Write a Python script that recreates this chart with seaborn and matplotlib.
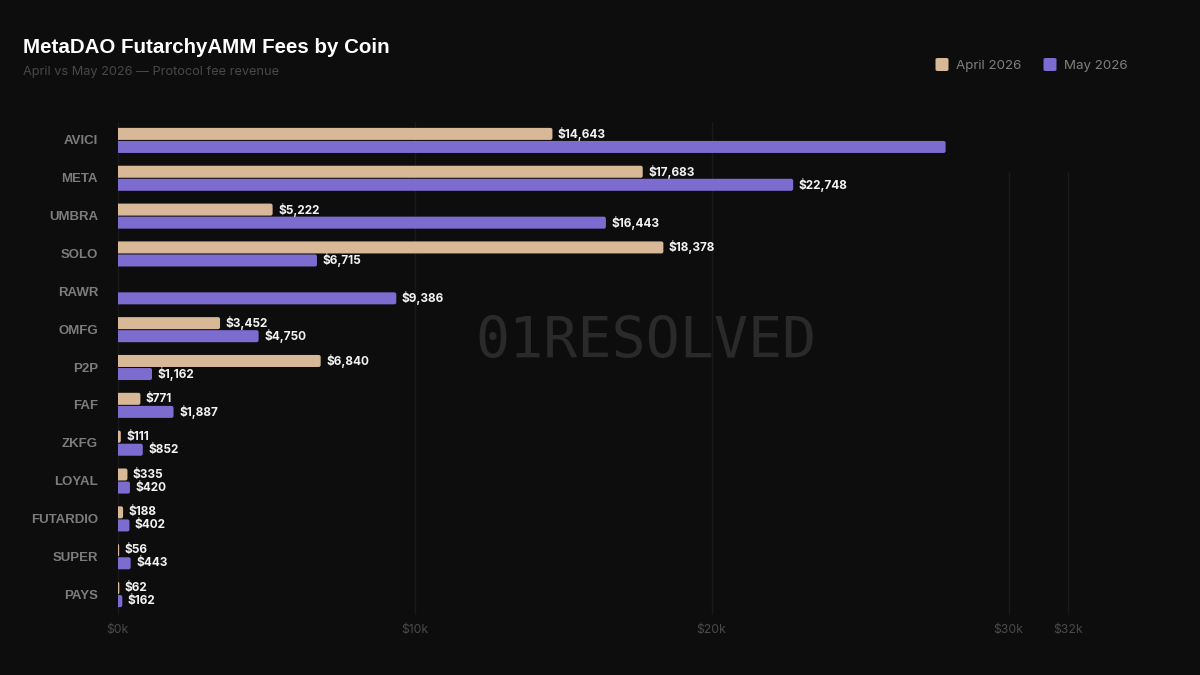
import numpy as np
import pandas as pd
import matplotlib.pyplot as plt
from matplotlib.path import Path
from matplotlib.patches import PathPatch, FancyBboxPatch
from matplotlib.transforms import ScaledTranslation
import seaborn as sns

coins = ['AVICI', 'META', 'UMBRA', 'SOLO', 'RAWR', 'OMFG', 'P2P', 'FAF', 'ZKFG',
         'LOYAL', 'FUTARDIO', 'SUPER', 'PAYS']
april = [14643, 17683, 5222, 18378, 0, 3452, 6840, 771, 111, 335, 188, 56, 62]
may = [27880, 22748, 16443, 6715, 9386, 4750, 1162, 1887, 852, 420, 402, 443, 162]
# the longest bar has no label in the picture
no_label = [('May 2026', 'AVICI')]
tick_values = [0, 10000, 20000, 30000, 32000]
tick_labels = ['$0k', '$10k', '$20k', '$30k', '$32k']
months = ['April 2026', 'May 2026']

BG = '#0d0d0d'
TAN = '#d9b897'
PURPLE = '#7d6cd0'
W, H = 1200, 675

sns.set_theme(style='dark')
plt.rcParams['font.family'] = ['Inter', 'DejaVu Sans']

df = pd.DataFrame({'coin': coins, 'April 2026': april, 'May 2026': may})
df = df.melt(id_vars='coin', var_name='month', value_name='fee')

fig = plt.figure(figsize=(12, 6.75), dpi=100, facecolor=BG)
# pixel box of the plot area
ax = fig.add_axes([117.5 / W, 1 - 613.5 / H, (1068 - 117.5) / W, (613.5 - 121.5) / H])
ax.set_facecolor(BG)

sns.barplot(data=df, y='coin', x='fee', hue='month', order=coins, hue_order=months,
            palette=[TAN, PURPLE], saturation=1, orient='h', width=0.69, gap=0.08,
            legend=False, ax=ax, zorder=3)

ax.set_xlim(0, 32000)
ax.set_ylim(12.5, -0.5)

# grid: the two last lines start lower in the reference
for v in tick_values:
    top = 1.0 if v <= 20000 else (613.5 - 172) / (613.5 - 121.5)
    ax.axvline(v, ymin=0, ymax=top, color='#1a1a1a', lw=1, zorder=1, clip_on=False)

# bars with rounded right end and their labels
px = (1068 - 117.5) / 32000
py = (613.5 - 121.5) / 13
radius = 2.0
bars = [b for b in ax.patches]
n = len(coins)
for i, b in enumerate(bars[:2 * n]):
    month = months[i // n]
    coin = coins[i % n]
    x0, y0, w, h = b.get_x(), b.get_y(), b.get_width(), b.get_height()
    if w <= 0:
        b.set_visible(False)
        continue
    rx = min(radius / px, w / 2)
    ry = radius / py
    x1, y1 = x0 + w, y0 + h
    verts = [(x0, y0), (x1 - rx, y0), (x1, y0), (x1, y0 + ry), (x1, y1 - ry),
             (x1, y1), (x1 - rx, y1), (x0, y1), (x0, y0)]
    codes = [Path.MOVETO, Path.LINETO, Path.CURVE3, Path.CURVE3, Path.LINETO,
             Path.CURVE3, Path.CURVE3, Path.LINETO, Path.CLOSEPOLY]
    ax.add_patch(PathPatch(Path(verts, codes), fc=b.get_facecolor(), ec='none', zorder=3))
    b.set_visible(False)
    if (month, coin) not in no_label:
        ax.annotate(f'${w:,.0f}', (x1, y0 + h / 2), xytext=(5.5, 0), textcoords='offset pixels',
                    color='#f2f2f2', fontsize=8.5, fontweight='bold', va='center', ha='left', zorder=4)

ax.set_xticks(tick_values, tick_labels)
ax.tick_params(axis='x', length=0, pad=7.5, labelsize=8.8, labelcolor='#4a4a4a')
ax.tick_params(axis='y', length=0, pad=14, labelsize=9.5, labelcolor='#7c7c7c')
up = ScaledTranslation(0, 0.5 / 100, fig.dpi_scale_trans)
for t in ax.get_yticklabels():
    t.set_fontweight('bold')
    t.set_family('Liberation Sans')
    t.set_transform(t.get_transform() + up)
ax.set_xlabel('')
ax.set_ylabel('')
ax.grid(False)
sns.despine(ax=ax, left=True, bottom=True)

fig.text(23 / W, 1 - 47.5 / H, 'MetaDAO FutarchyAMM Fees by Coin', color='white', fontsize=14.8,
         family='Liberation Sans', fontweight='bold', va='center', ha='left')
fig.text(23 / W, 1 - 71.5 / H, 'April vs May 2026 — Protocol fee revenue', color='#484848',
         fontsize=9.2, va='center', ha='left')
fig.text(646.5 / W, 1 - 343 / H, '01RESOLVED', color='#2a2a2a', fontsize=40.8,
         family='DejaVu Sans Mono', va='center', ha='center', zorder=2)

# legend drawn by hand to keep the rounded swatches
for x, colour, label in zip([935.5, 1043.5], [TAN, PURPLE], months):
    fig.add_artist(FancyBboxPatch((x / W, 1 - 71 / H), 13 / W, 13 / H,
                                  boxstyle='round,pad=0,rounding_size=0.002',
                                  transform=fig.transFigure, fc=colour, ec='none'))
    fig.text((x + 21) / W, 1 - 66 / H, label, color='#7f7f7f', fontsize=9.6,
             va='center', ha='left')

fig.savefig('out.png', dpi=100, facecolor=BG)
